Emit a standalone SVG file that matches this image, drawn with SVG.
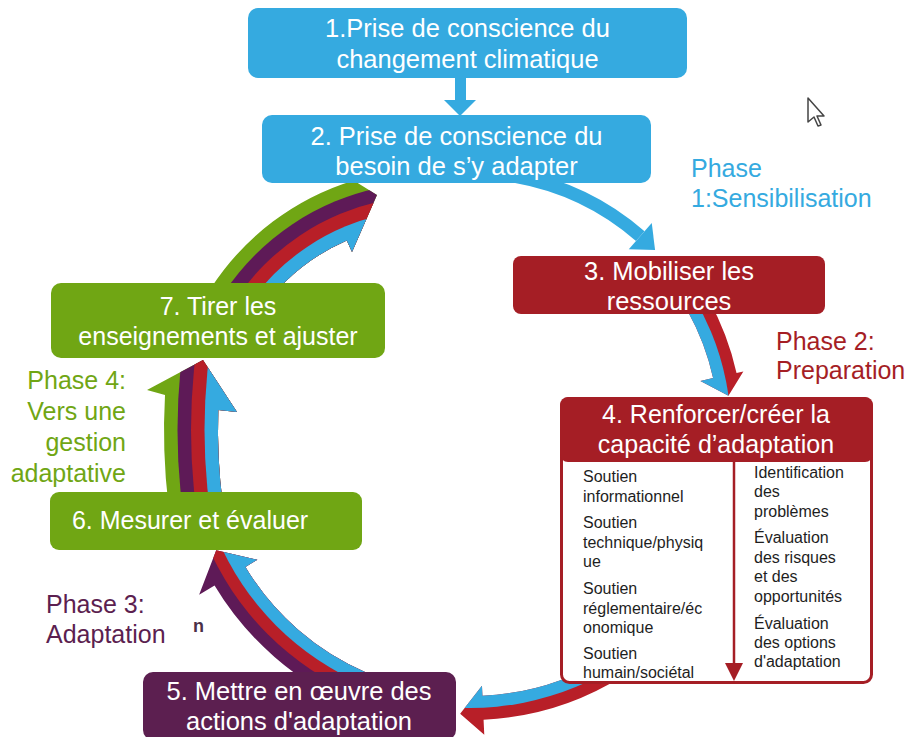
<svg xmlns="http://www.w3.org/2000/svg" width="908" height="737" viewBox="0 0 908 737">
<style>
text{font-family:"Liberation Sans",Arial,sans-serif}
.bt{fill:#fff;text-anchor:middle;font-size:25.5px}
.bt2{fill:#fff;text-anchor:middle;font-size:25px}
.lt{font-size:16px;fill:#1e1e1e}
.ph{font-size:25px}
.blue{fill:#35aae0}
.red{fill:#a51e25}
.ared{fill:#b81f28}
.purple{fill:#5c1f50}
.apur{fill:#5e1a57}
.green{fill:#70a614}
</style>
<defs>
<clipPath id="c72"><path d="M 211.11,287.85 A 261 261 0 0 1 353.69,180.41 L 377,195 L 352,252 L 346.80,240.46 A 207 207 0 0 0 256.40,317.26 Z"/></clipPath>
<clipPath id="c67"><path d="M 168.4,505 A 636 636 0 0 1 165.0,395 L 147,390 L 203,360 L 237,412 L 218.3,410 A 582 582 0 0 0 222.9,505 Z"/></clipPath>
<clipPath id="c56"><path d="M 353.57,706.31 A 298 298 0 0 1 214.56,585.48 L 199.13,594.75 L 216.23,550.33 L 257.42,559.73 L 245.42,566.94 A 262 262 0 0 0 367.64,673.17 Z"/></clipPath>
<clipPath id="c45"><path d="M 622.62,676.24 A 288 288 0 0 1 483.57,719.68 L 484.27,734.66 L 460.16,713.83 L 481.97,685.72 L 482.44,695.71 A 264 264 0 0 0 609.90,655.89 Z"/></clipPath>
<clipPath id="c34"><path d="M 708.77,299.65 A 273 273 0 0 1 736.53,372.91 L 743.36,371.40 L 728.46,395.68 L 700.41,380.92 L 713.10,378.11 A 249 249 0 0 0 687.78,311.28 Z"/></clipPath>
</defs>
<rect width="908" height="737" fill="#fff"/>
<g id="connectors">
  <polygon id="a12" class="blue" points="455,76 466,76 466,100 476,100 460,116 444,100 455,100"/>
  <g id="a23">
    <path d="M 515.06,176.44 A 259.5 259.5 0 0 1 640.25,236.15" fill="none" stroke="#35aae0" stroke-width="13"/>
    <polygon class="blue" points="628.77,249.36 651.73,222.95 655.09,250.11"/>
  </g>
  <g id="a34" clip-path="url(#c34)">
    <circle cx="470" cy="432" r="600" class="ared"/>
    <circle cx="470" cy="432" r="261" class="blue"/>
  </g>
  <g id="a45" clip-path="url(#c45)">
    <circle cx="470" cy="432" r="600" class="ared"/>
    <circle cx="470" cy="432" r="276" class="blue"/>
  </g>
  <g id="a56" clip-path="url(#c56)">
    <circle cx="470" cy="432" r="600" class="apur"/>
    <circle cx="470" cy="432" r="286" class="ared"/>
    <circle cx="470" cy="432" r="274" class="blue"/>
  </g>
  <g id="a67" clip-path="url(#c67)">
    <circle cx="800" cy="430" r="1000" class="green"/>
    <circle cx="800" cy="430" r="622.5" class="apur"/>
    <circle cx="800" cy="430" r="609" class="ared"/>
    <circle cx="800" cy="430" r="595.5" class="blue"/>
  </g>
  <g id="a72" clip-path="url(#c72)">
    <circle cx="430" cy="430" r="600" class="green"/>
    <circle cx="430" cy="430" r="247.5" class="apur"/>
    <circle cx="430" cy="430" r="234" class="ared"/>
    <circle cx="430" cy="430" r="220.5" class="blue"/>
  </g>
</g>
<g id="n1">
  <rect x="248" y="8" width="439" height="70" rx="10" class="blue"/>
  <text class="bt" x="467.5" y="37">1.Prise de conscience du</text>
  <text class="bt" x="467.5" y="68">changement climatique</text>
</g>
<g id="n2">
  <rect x="262" y="115" width="389" height="68" rx="10" class="blue"/>
  <text class="bt" x="456.5" y="145">2. Prise de conscience du</text>
  <text class="bt" x="456.5" y="175">besoin de s’y adapter</text>
</g>
<g id="n3">
  <rect x="513" y="256" width="312" height="58" rx="8" class="red"/>
  <text class="bt" x="669" y="280">3. Mobiliser les</text>
  <text class="bt" x="669" y="310">ressources</text>
</g>
<g id="n4">
  <rect x="561.5" y="398.5" width="310" height="284" rx="8" fill="#fff" stroke="#a51e25" stroke-width="3"/>
  <rect x="560" y="397" width="313" height="65" rx="8" class="red"/>
  <text class="bt2" x="716" y="423">4. Renforcer/créer la</text>
  <text class="bt2" x="716" y="453">capacité d’adaptation</text>
  <line x1="734" y1="462" x2="734" y2="665" stroke="#a51e25" stroke-width="2.5"/>
  <polygon class="red" points="725,663 743,663 734,681"/>
  <g class="lt">
    <text x="583" y="482">Soutien</text>
    <text x="583" y="502">informationnel</text>
    <text x="583" y="528">Soutien</text>
    <text x="583" y="548">technique/physiq</text>
    <text x="583" y="567">ue</text>
    <text x="583" y="594">Soutien</text>
    <text x="583" y="614">réglementaire/éc</text>
    <text x="583" y="633">onomique</text>
    <text x="583" y="659">Soutien</text>
    <text x="583" y="678">humain/sociétal</text>
    <text x="754" y="478">Identification</text>
    <text x="754" y="497">des</text>
    <text x="754" y="517">problèmes</text>
    <text x="754" y="543">Évaluation</text>
    <text x="754" y="563">des risques</text>
    <text x="754" y="582">et des</text>
    <text x="754" y="602">opportunités</text>
    <text x="754" y="629">Évaluation</text>
    <text x="754" y="648">des options</text>
    <text x="754" y="667">d'adaptation</text>
  </g>
</g>
<g id="n5">
  <rect x="143" y="672" width="313" height="68" rx="10" class="purple"/>
  <text class="bt" x="299" y="700">5. Mettre en œuvre des</text>
  <text class="bt" x="299" y="730">actions d'adaptation</text>
</g>
<g id="n6">
  <rect x="50" y="492" width="312" height="58" rx="9" class="green"/>
  <text class="bt2" x="190" y="529">6. Mesurer et évaluer</text>
</g>
<g id="n7">
  <rect x="51" y="283" width="334" height="75" rx="10" class="green"/>
  <text class="bt2" x="218" y="315">7. Tirer les</text>
  <text class="bt2" x="218" y="345">enseignements et ajuster</text>
</g>
<g id="labels">
  <text class="ph blue" x="691" y="177">Phase</text>
  <text class="ph blue" x="691" y="207">1:Sensibilisation</text>
  <text class="ph red" x="776" y="350">Phase 2:</text>
  <text class="ph red" x="776" y="379">Preparation</text>
  <text class="ph purple" x="46" y="613">Phase 3:</text>
  <text class="ph purple" x="46" y="643">Adaptation</text>
  <g class="ph green" text-anchor="end">
    <text x="126" y="389">Phase 4:</text>
    <text x="126" y="420">Vers une</text>
    <text x="126" y="451">gestion</text>
    <text x="126" y="482">adaptative</text>
  </g>
  <text x="193" y="632" font-size="18" font-weight="bold" fill="#4b3048">n</text>
</g>
<g id="cursor">
  <polygon points="808,98 808,122 814,117 818,126 821,125 817,116 824,116" fill="#fff" stroke="#444" stroke-width="1.5" stroke-linejoin="round"/>
</g>
</svg>
